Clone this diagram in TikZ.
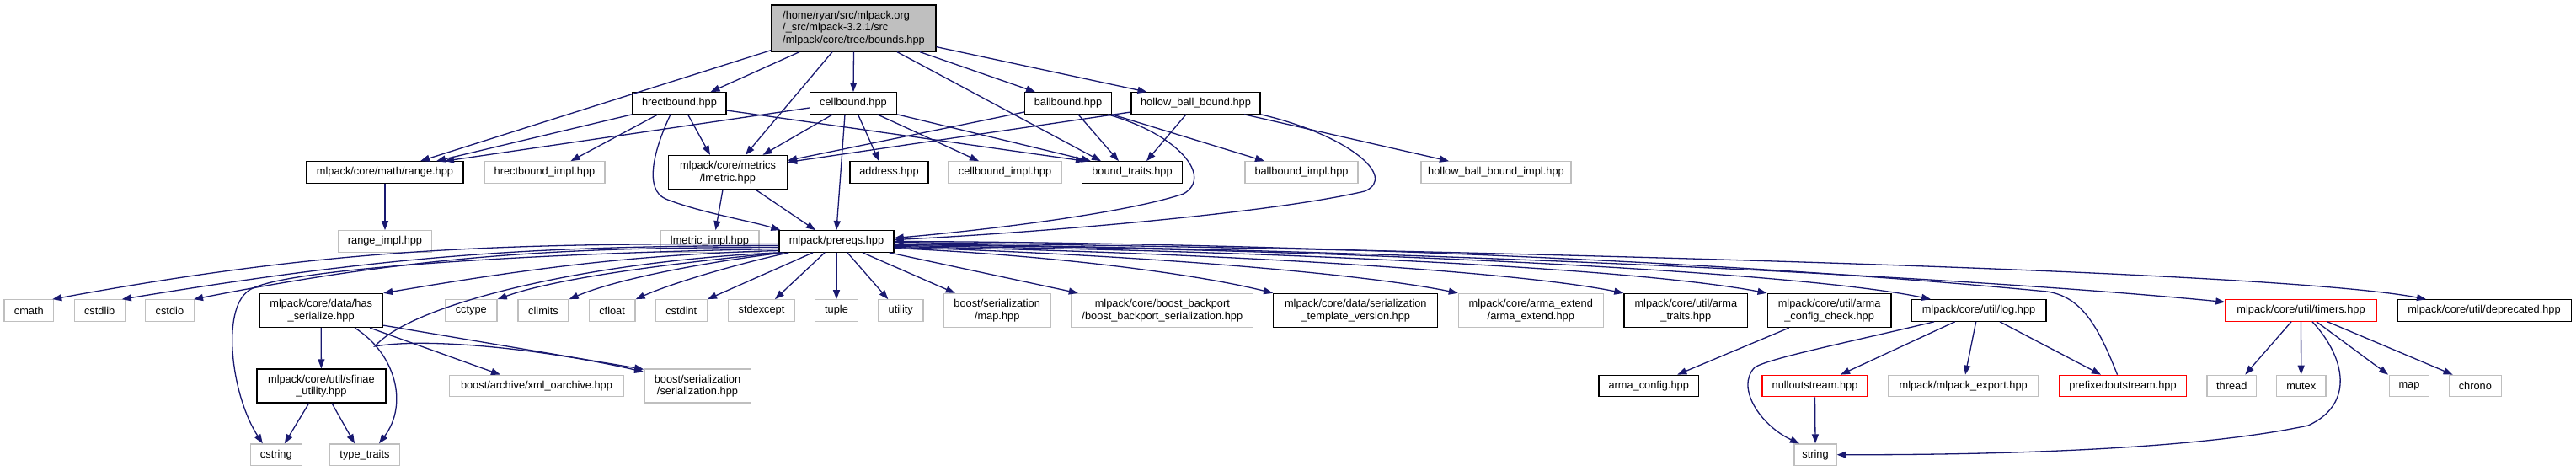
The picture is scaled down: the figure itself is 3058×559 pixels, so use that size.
\documentclass[tikz,border=0pt]{standalone}
\usepackage{fontspec}
\setmainfont{Liberation Sans}
\usetikzlibrary{arrows.meta}
\definecolor{edgec}{HTML}{191970}
\definecolor{greyc}{HTML}{BFBFBF}
\begin{document}
\begin{tikzpicture}[x=1pt,y=-1pt,
  box/.style={draw, rectangle, line width=1.3pt, inner sep=0pt, minimum height=25.4, align=center, font=\fontsize{12.8}{14.5}\selectfont},
  bbox/.style={box, draw=black},
  gbox/.style={box, draw=greyc},
  rbox/.style={box, draw=red},
  two/.style={minimum height=40},
  edge/.style={draw=edgec, line width=1.3pt, -{Triangle[length=11pt,width=8pt]}},
]
\fill[white] (0,0) rectangle (3058,559);
\useasboundingbox (0,0) rectangle (3058,559);

% nodes
\node[box, fill=greyc, draw=black, minimum width=195, minimum height=55, align=left] (root) at (1013.5,33.5) {/home/ryan/src/mlpack.org\\/\_src/mlpack-3.2.1/src\\/mlpack/core/tree/bounds.hpp};

\node[bbox, minimum width=111] (hrect) at (806.5,122.5) {hrectbound.hpp};
\node[bbox, minimum width=103] (cell) at (1013,122.5) {cellbound.hpp};
\node[bbox, minimum width=103] (ball) at (1268,122.5) {ballbound.hpp};
\node[bbox, minimum width=153] (hollow) at (1419.5,122.5) {hollow\_ball\_bound.hpp};

\node[bbox, minimum width=186] (range) at (457,204.5) {mlpack/core/math/range.hpp};
\node[gbox, minimum width=143] (hrectimpl) at (646.5,204.5) {hrectbound\_impl.hpp};
\node[bbox, two, minimum width=141] (lmetric) at (864,204.5) {mlpack/core/metrics\\/lmetric.hpp};
\node[bbox, minimum width=93] (address) at (1055.5,204.5) {address.hpp};
\node[gbox, minimum width=134] (cellimpl) at (1193,204.5) {cellbound\_impl.hpp};
\node[bbox, minimum width=119] (boundtraits) at (1344,204.5) {bound\_traits.hpp};
\node[gbox, minimum width=134] (ballimpl) at (1545,204.5) {ballbound\_impl.hpp};
\node[gbox, minimum width=178] (hollowimpl) at (1776,204.5) {hollow\_ball\_bound\_impl.hpp};

\node[gbox, minimum width=111] (rangeimpl) at (457,286.5) {range\_impl.hpp};
\node[gbox, minimum width=117] (lmetricimpl) at (842.5,286.5) {lmetric\_impl.hpp};
\node[bbox, minimum width=136] (prereqs) at (993,286.5) {mlpack/prereqs.hpp};

\node[gbox, minimum width=58.6] (cmath) at (34.3,368.5) {cmath};
\node[gbox, minimum width=60] (cstdlib) at (118.2,368.5) {cstdlib};
\node[gbox, minimum width=58] (cstdio) at (201.4,368.5) {cstdio};
\node[bbox, two, minimum width=146.7] (hasser) at (381.2,368.5) {mlpack/core/data/has\\\_serialize.hpp};
\node[gbox, minimum width=61.4] (cctype) at (559.3,368.5) {cctype};
\node[gbox, minimum width=60] (climits) at (645,368.5) {climits};
\node[gbox, minimum width=54.7] (cfloat) at (726.6,368.5) {cfloat};
\node[gbox, minimum width=61] (cstdint) at (808.8,368.5) {cstdint};
\node[gbox, minimum width=79.3] (stdexcept) at (904,368.5) {stdexcept};
\node[gbox, minimum width=51] (tuple) at (993,368.5) {tuple};
\node[gbox, minimum width=53.6] (utility) at (1069.3,368.5) {utility};
\node[gbox, two, minimum width=126.6] (bmap) at (1183.7,368.5) {boost/serialization\\/map.hpp};
\node[gbox, two, minimum width=216] (backport) at (1379.8,368.5) {mlpack/core/boost\_backport\\/boost\_backport\_serialization.hpp};
\node[bbox, two, minimum width=195] (stv) at (1609.3,368.5) {mlpack/core/data/serialization\\\_template\_version.hpp};
\node[gbox, two, minimum width=171.8] (armaext) at (1817.3,368.5) {mlpack/core/arma\_extend\\/arma\_extend.hpp};
\node[bbox, two, minimum width=146.7] (armatraits) at (2001.3,368.5) {mlpack/core/util/arma\\\_traits.hpp};
\node[bbox, two, minimum width=146.8] (armacc) at (2171.6,368.5) {mlpack/core/util/arma\\\_config\_check.hpp};
\node[bbox, minimum width=160] (log) at (2349,368.5) {mlpack/core/util/log.hpp};
\node[rbox, minimum width=179] (timers) at (2731.5,368.5) {mlpack/core/util/timers.hpp};
\node[bbox, minimum width=206.3] (deprecated) at (2949,368.5) {mlpack/core/util/deprecated.hpp};

\node[bbox, two, minimum width=153] (sfinae) at (381.4,458) {mlpack/core/util/sfinae\\\_utility.hpp};
\node[gbox, minimum width=206.6] (xml) at (637,458) {boost/archive/xml\_oarchive.hpp};
\node[gbox, two, minimum width=126.3] (bser) at (828,458) {boost/serialization\\/serialization.hpp};
\node[bbox, minimum width=118.5] (armaconfig) at (1957.2,458) {arma\_config.hpp};
\node[rbox, minimum width=125] (nullout) at (2154.5,458) {nulloutstream.hpp};
\node[gbox, minimum width=178.6] (export) at (2330.7,458) {mlpack/mlpack\_export.hpp};
\node[rbox, minimum width=150.4] (prefixed) at (2520,458) {prefixedoutstream.hpp};
\node[gbox, minimum width=58.3] (thread) at (2649.2,458) {thread};
\node[gbox, minimum width=58.7] (mutex) at (2731.7,458) {mutex};
\node[gbox, minimum width=46.6] (map) at (2860,458) {map};
\node[gbox, minimum width=62] (chrono) at (2938.3,458) {chrono};

\node[gbox, minimum width=61.2] (cstring) at (327.8,539.7) {cstring};
\node[gbox, minimum width=83] (typetraits) at (433,539.7) {type\_traits};
\node[gbox, minimum width=50] (string) at (2155,539.7) {string};

% root edges
\draw[edge] ([yshift=2pt]root.south west) -- ([xshift=42pt]range.north);
\draw[edge] ([xshift=-64.5pt]root.south) -- ([xshift=37pt]hrect.north);
\draw[edge] ([xshift=-25.5pt]root.south) -- ([xshift=21pt]lmetric.north);
\draw[edge] (root.south) -- (cell.north);
\draw[edge] ([xshift=51.5pt]root.south) -- ([xshift=-37pt]boundtraits.north);
\draw[edge] ([xshift=78.5pt]root.south) -- ([xshift=-39pt]ball.north);
\draw[edge] ([yshift=6pt]root.south east) -- ([xshift=-58pt]hollow.north);

% hrectbound
\draw[edge] (hrect.south west) -- ([xshift=61pt]range.north);
\draw[edge] ([xshift=-25.5pt]hrect.south) -- ([xshift=31pt]hrectimpl.north);
\draw[edge] ([xshift=-10.5pt]hrect.south) .. controls (775,180) and (765,225) .. (790,236) .. controls (830,252) and (890,262) .. ([xshift=2pt]prereqs.north west);
\draw[edge] ([xshift=10pt]hrect.south) -- ([xshift=-21pt]lmetric.north);
\draw[edge] ([yshift=-8.5pt]hrect.east) -- ([xshift=-56pt]boundtraits.north);

% cellbound
\draw[edge] ([yshift=-5.5pt]cell.west) -- ([xshift=71pt]range.north);
\draw[edge] ([xshift=-24.5pt]cell.south) -- ([xshift=41.5pt]lmetric.north);
\draw[edge] ([xshift=-10pt]cell.south) -- (prereqs.north);
\draw[edge] ([xshift=5.5pt]cell.south) -- ([xshift=-12pt]address.north);
\draw[edge] ([xshift=28.5pt]cell.south) -- ([xshift=-31pt]cellimpl.north);
\draw[edge] (cell.south east) -- ([xshift=-49pt]boundtraits.north);

% ballbound
\draw[edge] ([yshift=-10.5pt]ball.west) -- ([yshift=14pt]lmetric.east);
\draw[edge] ([xshift=12pt]ball.south) -- ([xshift=-16pt]boundtraits.north);
\draw[edge] (ball.south east) -- ([xshift=-44pt]ballimpl.north);
\draw[edge] ([xshift=47pt]ball.south) .. controls (1400,160) and (1440,210) .. (1405,230) .. controls (1330,255) and (1150,275) .. ([yshift=4pt]prereqs.east);

% hollow_ball_bound
\draw[edge] ([yshift=-10.5pt]hollow.west) -- ([yshift=12pt]lmetric.east);
\draw[edge] ([xshift=-11.5pt]hollow.south) -- ([xshift=17pt]boundtraits.north);
\draw[edge] ([xshift=-19.5pt]hollow.south east) -- ([xshift=-56pt]hollowimpl.north);
\draw[edge] (hollow.south east) .. controls (1600,160) and (1660,210) .. (1620,227) .. controls (1500,255) and (1200,278) .. ([yshift=2pt]prereqs.east);

% range, lmetric
\draw[edge] (range.south) -- (rangeimpl.north);
\draw[edge] ([xshift=-6pt]lmetric.south) -- ([xshift=7pt]lmetricimpl.north);
\draw[edge] ([xshift=33pt]lmetric.south) -- ([xshift=-25pt]prereqs.north);

% prereqs to the left
\draw[edge] ([yshift=-3pt]prereqs.west) .. controls (600,289) and (400,293) .. ([xshift=-2pt]cmath.north east);
\draw[edge] ([yshift=-5pt]prereqs.west) .. controls (650,292) and (480,300) .. ([xshift=-4pt]cstdlib.north east);
\draw[edge] ([yshift=-7pt]prereqs.west) .. controls (700,294) and (520,298) .. ([xshift=-1pt]cstdio.north east);
\draw[edge] ([yshift=-9pt]prereqs.west) .. controls (650,300) and (330,318) .. (295,345) .. controls (262,368) and (275,470) .. ([xshift=-16pt]cstring.north);
\draw[edge] ([yshift=-11pt]prereqs.west) .. controls (750,302) and (620,320) .. (hasser.north east);
\draw[edge] (prereqs.south west) .. controls (700,310) and (490,360) .. (445,411) .. controls (510,400) and (650,415) .. ([yshift=-4pt]bser.north west);
\draw[edge] ([xshift=3pt]prereqs.south west) .. controls (800,312) and (660,330) .. (cctype.north east);
\draw[edge] ([xshift=6pt]prereqs.south west) .. controls (830,312) and (730,332) .. (climits.north east);
\draw[edge] ([xshift=12pt]prereqs.south west) .. controls (880,312) and (800,335) .. (cfloat.north east);
\draw[edge] ([xshift=-28pt]prereqs.south) -- (cstdint.north east);
\draw[edge] ([xshift=-14pt]prereqs.south) -- ([xshift=16pt]stdexcept.north);
\draw[edge] (prereqs.south) -- (tuple.north);
\draw[edge] ([xshift=13pt]prereqs.south) -- ([xshift=-15pt]utility.north);
\draw[edge] ([xshift=31pt]prereqs.south) -- ([xshift=-50pt]bmap.north);
\draw[edge] ([xshift=-6pt]prereqs.south east) -- ([xshift=-100pt]backport.north);

% prereqs to the right
\draw[edge] ([yshift=-8pt]prereqs.east) .. controls (1250,303) and (1420,325) .. (stv.north west);
\draw[edge] ([yshift=-7pt]prereqs.east) .. controls (1350,302) and (1620,325) .. (armaext.north west);
\draw[edge] ([yshift=-6pt]prereqs.east) .. controls (1450,300) and (1800,322) .. (armatraits.north west);
\draw[edge] ([yshift=-5pt]prereqs.east) .. controls (1550,298) and (1950,320) .. (armacc.north west);
\draw[edge] ([yshift=-4pt]prereqs.east) .. controls (1650,296) and (2150,325) .. ([xshift=-57pt]log.north);
\draw[edge] ([yshift=-3pt]prereqs.east) .. controls (1700,296) and (2350,330) .. ([yshift=10pt]timers.west);
\draw[edge] ([yshift=-1pt]prereqs.east) .. controls (1700,296) and (2700,320) .. ([xshift=-69pt]deprecated.north);
\draw[edge] ([xshift=-6.5pt]prefixed.north) .. controls (2490,385) and (2470,352) .. (2430,346) .. controls (2000,305) and (1450,288) .. (prereqs.east);

% has_serialize, sfinae
\draw[edge] (hasser.south) -- (sfinae.north);
\draw[edge] ([xshift=40pt]hasser.south) .. controls (470,420) and (485,480) .. ([xshift=17pt]typetraits.north);
\draw[edge] ([xshift=58pt]hasser.south) -- ([xshift=-43pt]xml.north);
\draw[edge] ([yshift=3pt]hasser.south east) -- ([yshift=-1pt]bser.north west);
\draw[edge] ([xshift=-14.7pt]sfinae.south) -- ([xshift=10pt]cstring.north);
\draw[edge] ([xshift=12.6pt]sfinae.south) -- ([xshift=-12pt]typetraits.north);

% arma, log, timers
\draw[edge] ([xshift=-48pt]armacc.south) -- ([xshift=34pt]armaconfig.north);
\draw[edge] ([xshift=-28.3pt]log.south) -- ([xshift=30.5pt]nullout.north);
\draw[edge] ([xshift=-3.3pt]log.south) -- ([xshift=2.3pt]export.north);
\draw[edge] ([xshift=25pt]log.south) -- ([xshift=-26pt]prefixed.north);
\draw[edge] ([xshift=-53pt]log.south) .. controls (2200,405) and (2100,425) .. (2083,436) .. controls (2060,460) and (2090,505) .. ([xshift=-19pt]string.north);
\draw[edge] (nullout.south) -- (string.north);
\draw[edge] ([xshift=-11.5pt]timers.south) -- ([xshift=16pt]thread.north);
\draw[edge] (timers.south) -- (mutex.north);
\draw[edge] ([xshift=13.5pt]timers.south) .. controls (2785,425) and (2795,480) .. (2740,505) .. controls (2600,535) and (2350,540) .. (string.east);
\draw[edge] ([xshift=18.5pt]timers.south) -- ([xshift=-25pt]map.north);
\draw[edge] ([xshift=31.5pt]timers.south) -- ([xshift=-26.6pt]chrono.north);
\end{tikzpicture}
\end{document}
